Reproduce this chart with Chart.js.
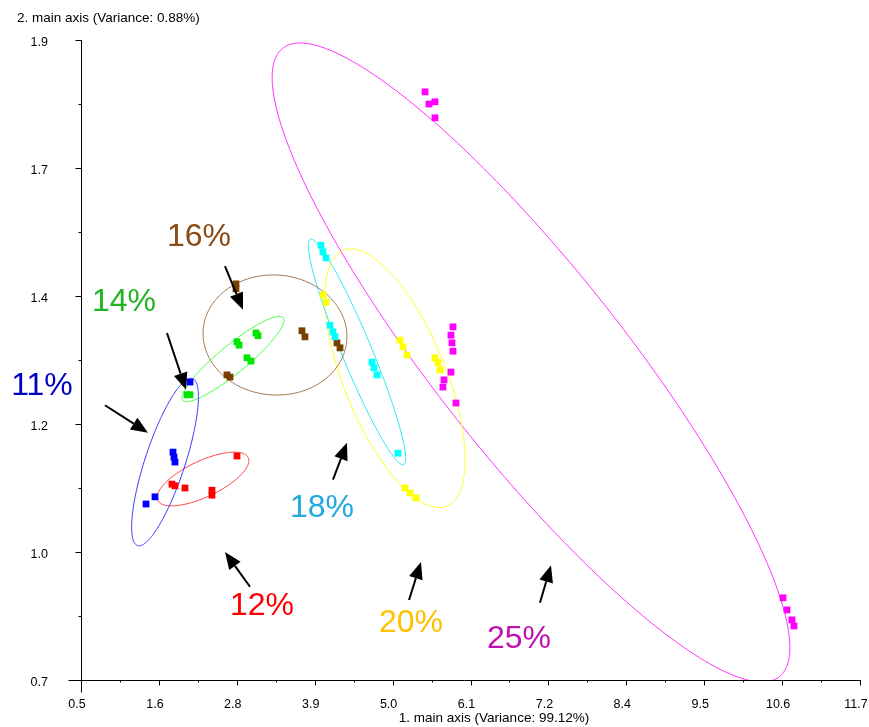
<!DOCTYPE html>
<html>
<head>
<meta charset="utf-8">
<script src="https://cdn.jsdelivr.net/npm/chart.js@4"></script>
<style>
  html, body { margin: 0; padding: 0; background: #fff; }
  #wrap { width: 869px; height: 727px; position: relative; }
</style>
</head>
<body>
<div id="wrap"><canvas id="chart"></canvas></div>
<script>
// axes
const xMin = 0.52, xMax = 11.72;
const yMin = 0.74, yMax = 1.9;
const xTickLabels = ['0.5', '1.6', '2.8', '3.9', '5.0', '6.1', '7.2', '8.4', '9.5', '10.6', '11.7'];
const yTickLabels = ['0.7', '1.0', '1.2', '1.4', '1.7', '1.9'];
const xTitle = '1. main axis (Variance: 99.12%)';
const yTitle = '2. main axis (Variance: 0.88%)';

// groups (same order everywhere)
const groupLabels = ['25%', '20%', '18%', '16%', '14%', '12%', '11%'];
const pointColors = ['#ff00ff', '#ffff00', '#00ffff', '#7a3e00', '#00e600', '#ff0000', '#0000ff'];
const ellipseColors = ['#ff33ff', '#ffff22', '#22e8f8', '#a07448', '#33ff33', '#ff3333', '#3333ff'];
const labelColors = ['#c010b0', '#ffc000', '#20a8e0', '#8a4a14', '#22b422', '#ff0000', '#0000c0'];

// points [x, y]
const pts25 = [[5.466, 1.806], [5.523, 1.784], [5.609, 1.788], [5.609, 1.759],
  [5.868, 1.380], [5.839, 1.365], [5.854, 1.351], [5.868, 1.336], [5.839, 1.298],
  [5.739, 1.284], [5.724, 1.271], [5.911, 1.242],
  [10.613, 0.889], [10.670, 0.867], [10.742, 0.849], [10.771, 0.838]];
const pts20 = [[3.999, 1.438], [4.042, 1.425], [5.106, 1.356], [5.149, 1.344], [5.207, 1.329],
  [5.609, 1.324], [5.652, 1.315], [5.681, 1.302], [5.178, 1.088], [5.250, 1.079], [5.336, 1.070]];
const pts18 = [[3.970, 1.528], [3.999, 1.516], [4.042, 1.505], [4.100, 1.383], [4.143, 1.371],
  [4.172, 1.362], [4.704, 1.316], [4.732, 1.306], [4.776, 1.293], [5.078, 1.151]];
const pts16 = [[2.748, 1.458], [2.748, 1.449], [3.697, 1.373], [3.740, 1.362], [4.200, 1.351],
  [4.244, 1.342], [2.619, 1.293], [2.662, 1.289]];
const pts14 = [[3.036, 1.369], [3.065, 1.364], [2.763, 1.353], [2.792, 1.347], [2.907, 1.324],
  [2.964, 1.318], [2.044, 1.257], [2.087, 1.257]];
const pts12 = [[2.763, 1.146], [1.828, 1.095], [1.871, 1.092], [2.015, 1.088], [2.403, 1.084], [2.403, 1.075]];
const pts11 = [[2.087, 1.280], [1.843, 1.153], [1.857, 1.144], [1.871, 1.135], [1.584, 1.072], [1.455, 1.059]];
const groupPoints = [pts25, pts20, pts18, pts16, pts14, pts12, pts11];

// ellipses: centre and two conjugate semi-axes, in data units
const ellCenter = [[6.99, 1.3155], [5.034, 1.287], [4.488, 1.3345], [3.309, 1.3653], [2.705, 1.3218], [2.274, 1.1043], [1.728, 1.1351]];
const ellAxisA = [[3.570, -0.5695], [0.743, -0.2319], [0.671, -0.2043], [1.0327, -0.0091], [0.7221, 0.0748], [0.650, 0.0387], [-0.3951, -0.1515]];
const ellAxisB = [[-1.0534, -0.1050], [-0.680, -0.0346], [-0.1993, -0.0104], [-0.0602, -0.1085], [0.1278, -0.0196], [0.1106, -0.0295], [-0.2732, 0.01132]];

// annotations: label centre, arrow tail, arrow head
const labelPos = [[6.817, 0.814], [5.264, 0.843], [3.985, 1.052], [2.216, 1.543], [1.138, 1.425], [3.122, 0.874], [-0.041, 1.273]];
const arrowFrom = [[7.119, 0.880], [5.236, 0.885], [4.143, 1.103], [2.590, 1.490], [1.756, 1.369], [2.950, 0.909], [0.865, 1.238]];
const arrowTo = [[7.277, 0.948], [5.408, 0.954], [4.344, 1.170], [2.849, 1.411], [2.030, 1.266], [2.590, 0.972], [1.483, 1.188]];

const FONT = '"Liberation Sans", Arial, sans-serif';

// even ticks between min and max, label taken from the list
function evenTicks(scale, labels) {
  const step = (scale.max - scale.min) / (labels.length - 1);
  scale.ticks = labels.map((l, i) => ({ value: scale.min + i * step }));
}

const ellipsePlugin = {
  id: 'ellipses',
  beforeDatasetsDraw(chart) {
    const { ctx, chartArea, scales: { x, y } } = chart;
    ctx.save();
    ctx.beginPath();
    ctx.rect(chartArea.left, chartArea.top, chartArea.right - chartArea.left, chartArea.bottom - chartArea.top + 1);
    ctx.clip();
    ctx.lineWidth = 1;
    ellCenter.forEach((c, i) => {
      const a = ellAxisA[i], b = ellAxisB[i];
      ctx.beginPath();
      for (let k = 0; k <= 240; k++) {
        const t = k / 240 * Math.PI * 2;
        const px = x.getPixelForValue(c[0] + a[0] * Math.cos(t) + b[0] * Math.sin(t));
        const py = y.getPixelForValue(c[1] + a[1] * Math.cos(t) + b[1] * Math.sin(t));
        if (k === 0) ctx.moveTo(px, py); else ctx.lineTo(px, py);
      }
      ctx.strokeStyle = ellipseColors[i];
      ctx.stroke();
    });
    ctx.restore();
  }
};

const axesPlugin = {
  id: 'axes',
  afterDraw(chart) {
    const { ctx, scales: { x, y } } = chart;
    const left = Math.round(x.left) + 0.5;
    const bottom = Math.round(y.bottom) + 0.5;
    ctx.save();
    ctx.strokeStyle = '#000';
    ctx.lineWidth = 1;
    ctx.beginPath();
    ctx.moveTo(left, y.top);
    ctx.lineTo(left, bottom + 12);
    ctx.moveTo(left - 13, bottom);
    ctx.lineTo(x.right + 1, bottom);
    // y ticks, major and minor
    y.ticks.forEach((t, i) => {
      const py = Math.round(y.getPixelForValue(t.value)) + 0.5;
      ctx.moveTo(left - 6, py); ctx.lineTo(left, py);
      if (i < y.ticks.length - 1) {
        const pm = Math.round(y.getPixelForValue((t.value + y.ticks[i + 1].value) / 2)) + 0.5;
        ctx.moveTo(left - 3, pm); ctx.lineTo(left, pm);
      }
    });
    // x ticks, major and minor
    x.ticks.forEach((t, i) => {
      const px = Math.round(x.getPixelForValue(t.value)) + 0.5;
      ctx.moveTo(px, bottom); ctx.lineTo(px, bottom + 5);
      if (i < x.ticks.length - 1) {
        const pm = Math.round(x.getPixelForValue((t.value + x.ticks[i + 1].value) / 2)) + 0.5;
        ctx.moveTo(pm, bottom); ctx.lineTo(pm, bottom + 2);
      }
    });
    ctx.stroke();

    // axis titles
    ctx.fillStyle = '#000';
    ctx.font = '13.5px ' + FONT;
    ctx.textBaseline = 'middle';
    ctx.textAlign = 'left';
    ctx.fillText(yTitle, 17, 18);
    ctx.textAlign = 'center';
    ctx.fillText(xTitle, 494, 718);

    // percentage labels and arrows
    ctx.font = '32px ' + FONT;
    labelPos.forEach((p, i) => {
      ctx.fillStyle = labelColors[i];
      ctx.fillText(groupLabels[i], x.getPixelForValue(p[0]), y.getPixelForValue(p[1]));
    });
    ctx.fillStyle = '#000';
    ctx.lineWidth = 2;
    arrowFrom.forEach((f, i) => {
      const x0 = x.getPixelForValue(f[0]), y0 = y.getPixelForValue(f[1]);
      const x1 = x.getPixelForValue(arrowTo[i][0]), y1 = y.getPixelForValue(arrowTo[i][1]);
      const ang = Math.atan2(y1 - y0, x1 - x0);
      const hl = 17, hw = 7;
      const bx = x1 - hl * Math.cos(ang), by = y1 - hl * Math.sin(ang);
      ctx.beginPath();
      ctx.moveTo(x0, y0);
      ctx.lineTo(bx, by);
      ctx.stroke();
      ctx.beginPath();
      ctx.moveTo(x1, y1);
      ctx.lineTo(bx + hw * Math.sin(ang), by - hw * Math.cos(ang));
      ctx.lineTo(bx - hw * Math.sin(ang), by + hw * Math.cos(ang));
      ctx.closePath();
      ctx.fill();
    });
    ctx.restore();
  }
};

new Chart(document.getElementById('chart'), {
  type: 'scatter',
  data: {
    datasets: groupPoints.map((pts, i) => ({
      label: groupLabels[i],
      data: pts.map(p => ({ x: p[0], y: p[1] })),
      backgroundColor: pointColors[i],
      borderWidth: 0,
      pointStyle: 'rect',
      pointRadius: 4.8
    }))
  },
  options: {
    responsive: true,
    maintainAspectRatio: false,
    animation: false,
    layout: { padding: { top: 40, right: 9, left: 0, bottom: 0 } },
    plugins: { legend: { display: false }, tooltip: { enabled: false } },
    scales: {
      x: {
        type: 'linear', min: xMin, max: xMax,
        grid: { display: false, drawTicks: false },
        border: { display: false },
        afterFit: s => { s.height = 47; s.paddingLeft = 0; s.paddingRight = 0; },
        afterBuildTicks: s => evenTicks(s, xTickLabels),
        ticks: {
          padding: 17, labelOffset: -4, maxRotation: 0, autoSkip: false, color: '#000',
          font: { family: FONT, size: 12.5 },
          callback: (v, i) => xTickLabels[i]
        }
      },
      y: {
        type: 'linear', min: yMin, max: yMax,
        grid: { display: false, drawTicks: false },
        border: { display: false },
        afterFit: s => { s.width = 81; s.paddingTop = 0; s.paddingBottom = 0; },
        afterBuildTicks: s => evenTicks(s, yTickLabels),
        ticks: {
          padding: 33, labelOffset: 3, autoSkip: false, color: '#000',
          font: { family: FONT, size: 12.5 },
          callback: (v, i) => yTickLabels[i]
        }
      }
    }
  },
  plugins: [ellipsePlugin, axesPlugin]
});
</script>
</body>
</html>
